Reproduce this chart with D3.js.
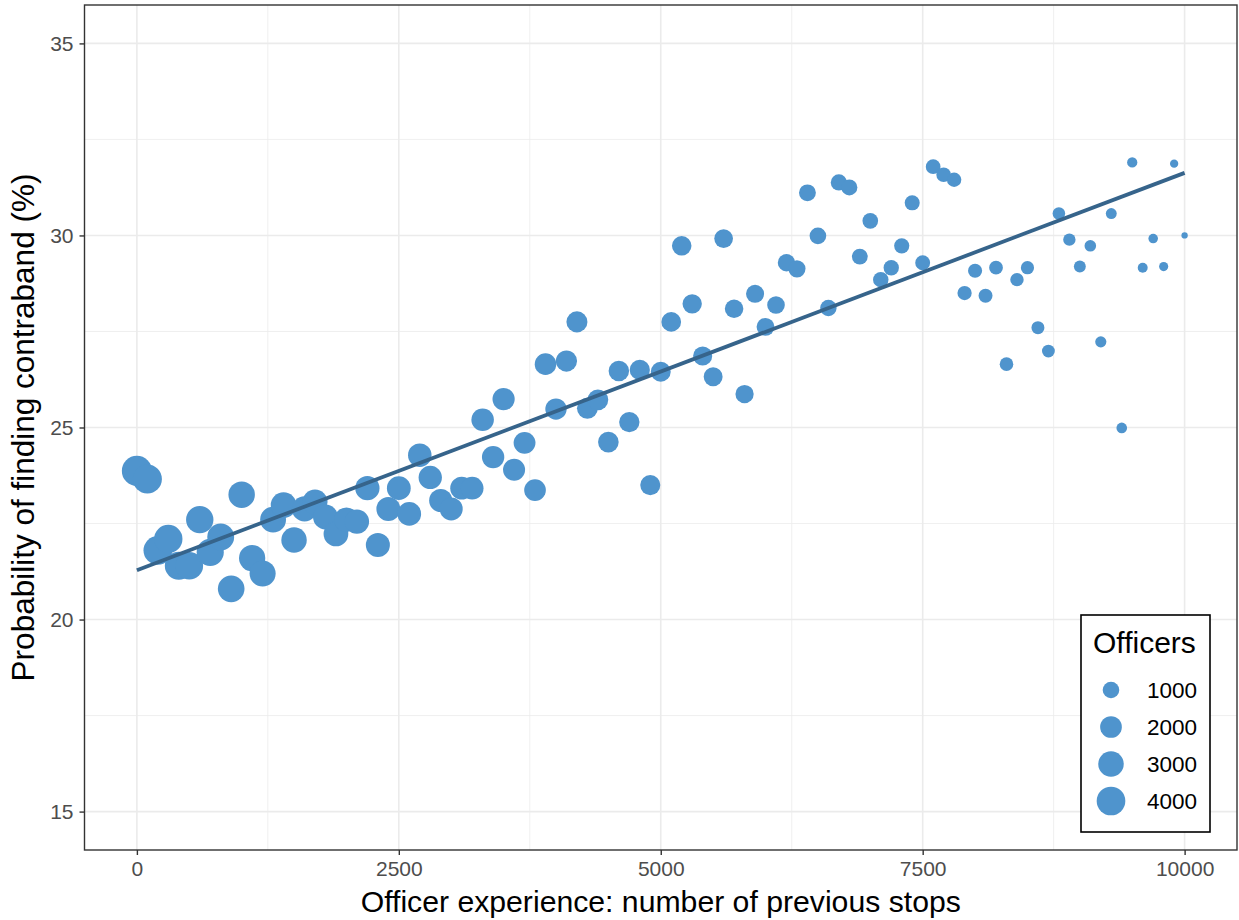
<!DOCTYPE html>
<html>
<head>
<meta charset="utf-8">
<script src="https://cdn.jsdelivr.net/npm/d3@7"></script>
<style>
  body { margin: 0; background: #fff; }
  text { font-family: "Liberation Sans", Arial, sans-serif; }
</style>
</head>
<body>
<svg id="chart" width="1239" height="920"></svg>
<script>
// Data: previous stops (every 100), hit rate (%), number of officers
const stops = d3.range(0, 10001, 100);
const hitRate = [
  23.87, 23.66, 21.80, 22.10, 21.40, 21.40, 22.60, 21.75, 22.15, 20.80,
  23.25, 21.60, 21.20, 22.60, 22.98, 22.07, 22.88, 23.06, 22.67, 22.23,
  22.60, 22.55, 23.42, 21.94, 22.88, 23.42, 22.75, 24.28, 23.70, 23.10,
  22.88, 23.42, 23.42, 25.20, 24.23, 25.74, 23.90, 24.60, 23.37, 26.65,
  25.48, 26.73, 27.75, 25.50, 25.72, 24.62, 26.47, 25.14, 26.50, 23.50,
  26.45, 27.75, 29.73, 28.22, 26.86, 26.32, 29.92, 28.09, 25.87, 28.48,
  27.62, 28.19, 29.29, 29.13, 31.11, 29.99, 28.11, 31.38, 31.25, 29.45,
  30.38, 28.85, 29.16, 29.73, 30.85, 29.29, 31.79, 31.58, 31.45, 28.50,
  29.08, 28.43, 29.16, 26.65, 28.85, 29.16, 27.60, 26.99, 30.57, 29.89,
  29.19, 29.73, 27.23, 30.57, 24.99, 31.90, 29.16, 29.92, 29.19, 31.87,
  30.00
];
const officers = [
  4500, 4150, 4000, 3880, 3770, 3670, 3580, 3500, 3420, 3350,
  3290, 3230, 3170, 3110, 3050, 2990, 2930, 2880, 2830, 2780,
  2730, 2680, 2640, 2600, 2560, 2520, 2480, 2440, 2400, 2360,
  2320, 2280, 2240, 2200, 2160, 2120, 2080, 2040, 2000, 1960,
  1920, 1880, 1850, 1820, 1790, 1760, 1730, 1700, 1670, 1640,
  1610, 1570, 1530, 1490, 1450, 1410, 1370, 1330, 1290, 1250,
  1210, 1170, 1130, 1090, 1050, 1010, 980, 950, 920, 890,
  860, 840, 820, 800, 780, 760, 740, 720, 700, 680,
  660, 640, 620, 600, 580, 560, 540, 520, 500, 480,
  440, 410, 380, 360, 340, 320, 300, 280, 260, 230,
  200
];
const xTicks = [0, 2500, 5000, 7500, 10000];
const xMinor = [1250, 3750, 6250, 8750];
const yTicks = [15, 20, 25, 30, 35];
const yMinor = [17.5, 22.5, 27.5, 32.5];
const legendValues = [1000, 2000, 3000, 4000];

const data = stops.map((s, i) => ({ stops: s, rate: hitRate[i], n: officers[i] }));

const panel = { left: 84.5, right: 1237, top: 5, bottom: 850 };
const pointColor = "#4F94CD";
const lineColor = "#36648B";

const svg = d3.select("#chart");

const x = d3.scaleLinear().domain([-500, 10500]).range([panel.left, panel.right]);
const y = d3.scaleLinear().domain([14, 36]).range([panel.bottom, panel.top]);

// size scale, area-like as in ggplot's scale_size
const nExt = d3.extent(officers);
const sizeScale = d3.scaleSqrt().domain([0, nExt[1] - nExt[0]]).range([1, 6]);
const radius = n => 0.835 * (2.845 * sizeScale(n - nExt[0]) + 0.94);

// grid
const grid = svg.append("g");
grid.selectAll(".xminor").data(xMinor).join("line")
  .attr("x1", d => x(d)).attr("x2", d => x(d))
  .attr("y1", panel.top).attr("y2", panel.bottom)
  .attr("stroke", "#EBEBEB").attr("stroke-width", 0.8);
grid.selectAll(".yminor").data(yMinor).join("line")
  .attr("y1", d => y(d)).attr("y2", d => y(d))
  .attr("x1", panel.left).attr("x2", panel.right)
  .attr("stroke", "#EBEBEB").attr("stroke-width", 0.8);
grid.selectAll(".xmajor").data(xTicks).join("line")
  .attr("x1", d => x(d)).attr("x2", d => x(d))
  .attr("y1", panel.top).attr("y2", panel.bottom)
  .attr("stroke", "#EBEBEB").attr("stroke-width", 1.6);
grid.selectAll(".ymajor").data(yTicks).join("line")
  .attr("y1", d => y(d)).attr("y2", d => y(d))
  .attr("x1", panel.left).attr("x2", panel.right)
  .attr("stroke", "#EBEBEB").attr("stroke-width", 1.6);

// points
svg.append("g").selectAll("circle").data(data).join("circle")
  .attr("cx", d => x(d.stops))
  .attr("cy", d => y(d.rate))
  .attr("r", d => radius(d.n))
  .attr("fill", pointColor);

// linear fit, weighted by number of officers
const w = d => d.n;
const sw = d3.sum(data, w);
const mx = d3.sum(data, d => w(d) * d.stops) / sw;
const my = d3.sum(data, d => w(d) * d.rate) / sw;
const slope = d3.sum(data, d => w(d) * (d.stops - mx) * (d.rate - my)) /
  d3.sum(data, d => w(d) * (d.stops - mx) ** 2);
const intercept = my - slope * mx;
const xr = d3.extent(stops);
svg.append("path")
  .datum(xr.map(v => [v, intercept + slope * v]))
  .attr("d", d3.line().x(d => x(d[0])).y(d => y(d[1])))
  .attr("fill", "none")
  .attr("stroke", lineColor)
  .attr("stroke-width", 3.8);

// panel border
svg.append("rect")
  .attr("x", panel.left).attr("y", panel.top)
  .attr("width", panel.right - panel.left).attr("height", panel.bottom - panel.top)
  .attr("fill", "none").attr("stroke", "#333333").attr("stroke-width", 1.4);

// axes
const xAxis = svg.append("g")
  .attr("transform", `translate(0,${panel.bottom})`)
  .call(d3.axisBottom(x).tickValues(xTicks).tickSize(5).tickPadding(6).tickFormat(d3.format("d")));
const yAxis = svg.append("g")
  .attr("transform", `translate(${panel.left},0)`)
  .call(d3.axisLeft(y).tickValues(yTicks).tickSize(5).tickPadding(6));
[xAxis, yAxis].forEach(g => {
  g.select(".domain").remove();
  g.selectAll(".tick line").attr("stroke", "#333333").attr("stroke-width", 1.4);
  g.selectAll(".tick text").attr("fill", "#4D4D4D").style("font-size", "21px")
    .style("font-family", '"Liberation Sans", Arial, sans-serif');
});

// axis titles
svg.append("text")
  .attr("x", (panel.left + panel.right) / 2).attr("y", 912)
  .attr("text-anchor", "middle")
  .style("font-size", "30.2px")
  .text("Officer experience: number of previous stops");
svg.append("text")
  .attr("transform", `translate(34,${(panel.top + panel.bottom) / 2}) rotate(-90)`)
  .attr("text-anchor", "middle")
  .style("font-size", "31.5px")
  .text("Probability of finding contraband (%)");

// legend
const legend = svg.append("g").attr("transform", "translate(1081,615)");
legend.append("rect")
  .attr("width", 129).attr("height", 217)
  .attr("fill", "#fff").attr("stroke", "#000").attr("stroke-width", 1.6);
legend.append("text")
  .attr("x", 12).attr("y", 38)
  .style("font-size", "30px")
  .text("Officers");
const items = legend.selectAll(".item").data(legendValues).join("g")
  .attr("transform", (d, i) => `translate(30,${75 + i * 37})`);
items.append("circle").attr("r", d => radius(d)).attr("fill", pointColor);
items.append("text")
  .attr("x", 36).attr("dy", "0.36em")
  .style("font-size", "22.5px")
  .text(d => d);
</script>
</body>
</html>
